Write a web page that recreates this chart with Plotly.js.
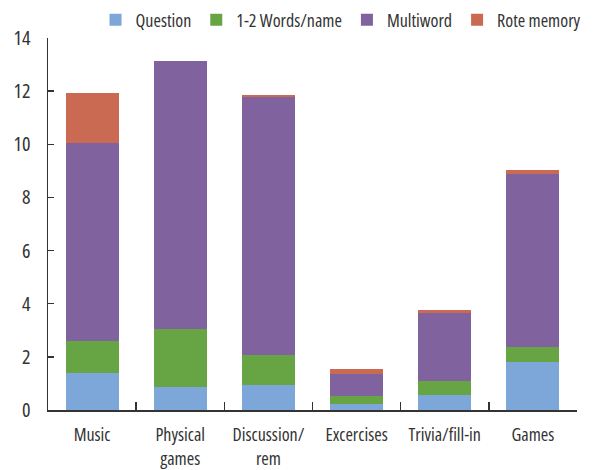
<!DOCTYPE html>
<html>
<head>
<meta charset="utf-8">
<script src="https://cdn.plot.ly/plotly-3.0.1.min.js"></script>
<style>
  html, body { margin: 0; padding: 0; background: #fff; }
  #chart { width: 593px; height: 470px; }
  /* narrow face for all svg text, including Plotly's measuring node */
  svg text { font-stretch: 75%; }
</style>
</head>
<body>
<div id="chart"></div>
<script>
// Activity categories (x axis)
const categories = ['Music', 'Physical<br>games', 'Discussion/<br>rem', 'Excercises', 'Trivia/fill-in', 'Games'];

// Stacked segment values per response type
const question   = [1.40, 0.87, 0.94, 0.23, 0.56, 1.81];
const wordsName  = [1.19, 2.18, 1.13, 0.30, 0.53, 0.56];
const multiword  = [7.46, 10.09, 9.71, 0.83, 2.56, 6.51];
const roteMemory = [1.88, 0.00, 0.08, 0.18, 0.11, 0.15];

const seriesNames = ['Question', '1-2 Words/name', 'Multiword', 'Rote memory'];
const seriesColors = ['#7CA7D8', '#67A443', '#7F629E', '#CA6A52'];
const seriesValues = [question, wordsName, multiword, roteMemory];

// y axis tick values
const yTicks = [0, 2, 4, 6, 8, 10, 12, 14];

const FONT = '"Open Sans", "Roboto Condensed", Roboto, sans-serif';
const TEXT = '#333333';

const traces = seriesValues.map((vals, i) => ({
  type: 'bar',
  name: seriesNames[i],
  x: categories,
  y: vals,
  marker: { color: seriesColors[i], line: { width: 0 } },
  hoverinfo: 'skip'
}));

const layout = {
  width: 593,
  height: 470,
  barmode: 'stack',
  bargap: 0.4,
  paper_bgcolor: '#ffffff',
  plot_bgcolor: '#ffffff',
  margin: { l: 48, r: 16, t: 38, b: 60, autoexpand: false },
  font: { family: FONT, size: 19, color: TEXT },
  showlegend: true,
  legend: {
    orientation: 'h',
    x: 1.018,
    xanchor: 'right',
    y: 1.048,
    yanchor: 'middle',
    font: { family: FONT, size: 18, color: TEXT },
    itemwidth: 30,
    traceorder: 'normal',
    bgcolor: 'rgba(0,0,0,0)'
  },
  xaxis: {
    type: 'category',
    showline: true,
    linecolor: TEXT,
    linewidth: 1.5,
    ticks: 'inside',
    tickson: 'boundaries',
    ticklen: 8,
    tickwidth: 1.5,
    tickcolor: TEXT,
    tickangle: 0,
    showgrid: false,
    zeroline: false,
    ticklabelstandoff: 8,
    tickfont: { family: FONT, size: 18, color: TEXT }
  },
  yaxis: {
    range: [0, 14],
    tickvals: yTicks,
    ticktext: yTicks.map(String),
    showline: true,
    linecolor: TEXT,
    linewidth: 1.5,
    ticks: 'inside',
    ticklen: 6,
    tickwidth: 1.5,
    tickcolor: TEXT,
    showgrid: false,
    zeroline: false,
    ticklabelstandoff: 12,
    tickfont: { family: FONT, size: 20, color: TEXT }
  }
};

Plotly.newPlot('chart', traces, layout, { displayModeBar: false, staticPlot: true });
</script>
</body>
</html>
